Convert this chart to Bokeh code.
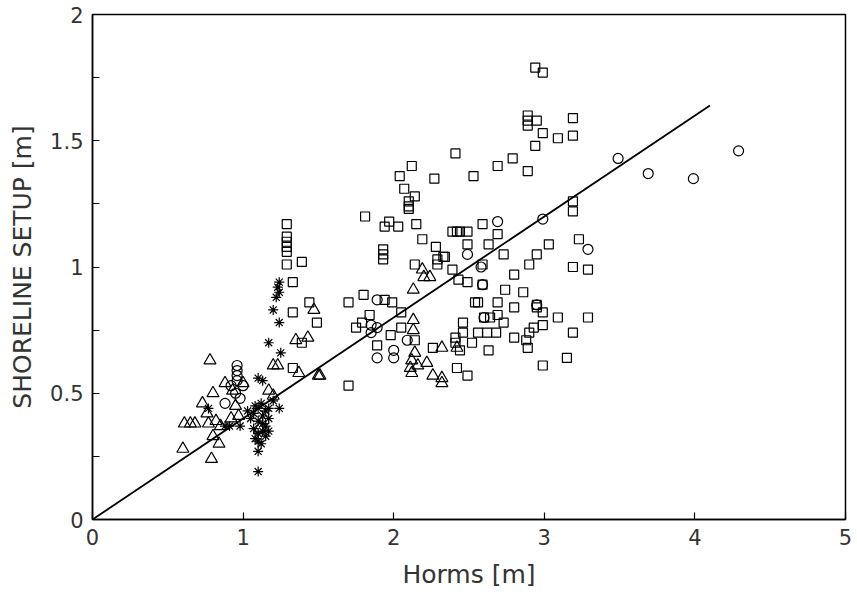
from bokeh.plotting import figure
from bokeh.models import FixedTicker, Range1d
from bokeh.embed import file_html
from bokeh.resources import INLINE

# ---- data ----
sq_x = [2.94, 2.99, 2.89, 2.89, 2.89, 2.95, 3.19, 2.99, 3.09, 3.19, 2.94, 2.41, 2.79, 2.69, 2.53, 2.89,
        3.19, 3.19, 2.12, 2.04, 2.27, 2.07, 2.14, 2.10, 2.10, 2.10, 1.81, 1.97, 1.94, 2.03, 2.15, 2.19,
        2.39, 2.42, 2.44, 2.49, 2.49, 2.28, 2.29, 2.29, 2.34, 1.93, 1.93, 1.93, 2.14, 2.43, 2.39, 2.49,
        2.59, 2.69, 2.63, 2.73, 3.03, 2.95, 2.90, 3.23, 3.19, 3.29, 2.59, 2.33, 2.80, 2.74, 2.86, 2.54,
        2.69, 2.80, 2.95, 2.99, 3.09, 3.29, 2.60, 2.64, 2.69, 2.73, 2.46, 2.46, 2.56, 2.62, 2.68, 2.41,
        2.41, 2.52, 2.44, 2.63, 2.80, 2.88, 2.90, 2.93, 2.99, 2.89, 3.19, 3.15, 2.99, 2.42, 2.49, 1.70,
        1.80, 1.94, 1.99, 2.05, 1.84, 1.75, 1.79, 2.05, 1.98, 2.14, 1.89, 2.26, 1.70, 1.29, 1.29, 1.29,
        1.29, 1.29, 1.29, 1.39, 1.33, 1.44, 1.33, 1.49, 1.39, 1.33, 2.59, 2.95, 2.56]
sq_y = [1.79, 1.77, 1.60, 1.58, 1.56, 1.58, 1.59, 1.53, 1.51, 1.52, 1.48, 1.45, 1.43, 1.40, 1.36, 1.38,
        1.26, 1.22, 1.40, 1.36, 1.35, 1.31, 1.28, 1.26, 1.24, 1.23, 1.20, 1.18, 1.16, 1.16, 1.17, 1.11,
        1.14, 1.14, 1.14, 1.14, 1.09, 1.08, 1.03, 1.01, 1.04, 1.03, 1.05, 1.07, 1.01, 0.95, 0.99, 0.94,
        1.17, 1.13, 1.09, 1.05, 1.09, 1.05, 1.01, 1.11, 1.00, 0.99, 1.01, 1.04, 0.97, 0.91, 0.90, 0.86,
        0.86, 0.84, 0.85, 0.82, 0.80, 0.80, 0.80, 0.80, 0.81, 0.78, 0.78, 0.74, 0.74, 0.74, 0.74, 0.72,
        0.70, 0.70, 0.67, 0.67, 0.72, 0.71, 0.74, 0.76, 0.77, 0.68, 0.74, 0.64, 0.61, 0.60, 0.57, 0.86,
        0.89, 0.87, 0.86, 0.82, 0.81, 0.76, 0.78, 0.76, 0.73, 0.71, 0.69, 0.68, 0.53, 1.17, 1.12, 1.10,
        1.08, 1.06, 1.01, 1.02, 0.94, 0.86, 0.82, 0.78, 0.70, 0.60, 0.93, 0.84, 0.86]

ci_x = [3.49, 3.69, 3.99, 4.29, 2.99, 3.29, 2.69, 2.49, 2.58, 2.59, 2.60, 2.95, 1.89, 1.85, 1.89, 1.85,
        2.09, 2.00, 1.89, 2.00, 0.96, 0.96, 0.96, 0.96, 0.92, 1.00, 0.88, 0.95, 0.98]
ci_y = [1.43, 1.37, 1.35, 1.46, 1.19, 1.07, 1.18, 1.05, 1.00, 0.93, 0.80, 0.85, 0.87, 0.77, 0.76, 0.74,
        0.71, 0.67, 0.64, 0.64, 0.61, 0.59, 0.57, 0.55, 0.53, 0.53, 0.46, 0.50, 0.48]

tr_x = [2.19, 2.20, 2.24, 2.13, 2.13, 2.13, 2.14, 2.12, 2.16, 2.11, 2.22, 2.12, 2.26, 2.32, 2.32, 2.32,
        1.51, 1.43, 1.35, 1.47, 1.20, 1.23, 1.37, 1.50, 0.78, 0.88, 1.00, 0.93, 0.80, 0.73, 0.95, 0.76,
        0.61, 0.65, 0.68, 0.77, 0.82, 0.85, 0.92, 0.97, 0.80, 0.60, 0.84, 0.79, 1.17, 1.20, 1.11, 2.42]
tr_y = [0.99, 0.96, 0.96, 0.91, 0.79, 0.75, 0.66, 0.63, 0.61, 0.60, 0.62, 0.58, 0.57, 0.56, 0.54, 0.68,
        0.57, 0.72, 0.71, 0.83, 0.61, 0.61, 0.58, 0.57, 0.63, 0.54, 0.54, 0.51, 0.50, 0.46, 0.45, 0.42,
        0.38, 0.38, 0.38, 0.38, 0.39, 0.37, 0.40, 0.41, 0.33, 0.28, 0.30, 0.24, 0.51, 0.49, 0.36, 0.68]

st_x = [1.24, 1.23, 1.24, 1.22, 1.20, 1.24, 1.17, 1.25, 1.10, 1.13, 1.12, 1.24, 1.17, 1.07, 1.10, 1.13,
        1.15, 1.10, 1.13, 1.17, 1.05, 1.08, 1.07, 1.10, 1.13, 1.15, 1.10, 1.12, 1.15, 1.08, 1.17, 1.10,
        1.10, 0.98, 0.88, 0.91, 0.77, 1.03, 1.20]
st_y = [0.94, 0.92, 0.90, 0.88, 0.83, 0.78, 0.70, 0.66, 0.56, 0.55, 0.46, 0.44, 0.44, 0.42, 0.44, 0.41,
        0.43, 0.39, 0.38, 0.40, 0.40, 0.45, 0.36, 0.34, 0.35, 0.33, 0.31, 0.30, 0.37, 0.32, 0.35, 0.27,
        0.19, 0.37, 0.37, 0.37, 0.44, 0.43, 0.47]

fit_x = [0.0, 4.1]
fit_y = [0.0, 1.64]

x_ticks = [0, 1, 2, 3, 4, 5]
x_labels = ["0", "1", "2", "3", "4", "5"]
y_ticks = [0, 0.5, 1, 1.5, 2]
y_labels = ["0", "0.5", "1", "1.5", "2"]
y_minor = [0.25, 0.75, 1.25, 1.75]

FONT = "DejaVu Sans"
TXT = "#333333"

p = figure(width=857, height=600, output_backend="svg", toolbar_location=None,
           x_range=Range1d(0, 5), y_range=Range1d(0, 2),
           min_border_left=92, min_border_right=12, min_border_top=14, min_border_bottom=81)
p.background_fill_color = "white"
p.border_fill_color = "white"
p.outline_line_color = "black"
p.outline_line_width = 1.5
p.xgrid.visible = False
p.ygrid.visible = False

p.line(fit_x, fit_y, line_color="black", line_width=1.8)
p.scatter(sq_x, sq_y, marker="square", size=9, fill_color=None, line_color="black", line_width=1.2)
p.scatter(ci_x, ci_y, marker="circle", size=10, fill_color=None, line_color="black", line_width=1.2)
p.scatter(tr_x, tr_y, marker="triangle", size=12, fill_color=None, line_color="black", line_width=1.2)
p.scatter(st_x, st_y, marker="asterisk", size=10, fill_color=None, line_color="black", line_width=1.2)

p.xaxis.ticker = FixedTicker(ticks=x_ticks)
p.xaxis.major_label_overrides = {t: l for t, l in zip(x_ticks, x_labels)}
p.yaxis.ticker = FixedTicker(ticks=y_ticks, minor_ticks=y_minor)
p.yaxis.major_label_overrides = {t: l for t, l in zip(y_ticks, y_labels)}

for ax in (p.xaxis, p.yaxis):
    ax.axis_line_color = "black"
    ax.axis_line_width = 1.5
    ax.major_tick_in = 7
    ax.major_tick_out = 0
    ax.major_tick_line_color = "black"
    ax.major_tick_line_width = 1.2
    ax.major_label_text_font = FONT
    ax.major_label_text_font_size = "21px"
    ax.major_label_text_color = TXT
    ax.major_label_standoff = 9
    ax.axis_label_text_font = FONT
    ax.axis_label_text_font_size = "25px"
    ax.axis_label_text_font_style = "normal"
    ax.axis_label_text_color = TXT

p.xaxis.minor_tick_line_color = None
p.yaxis.minor_tick_in = 7
p.yaxis.minor_tick_out = 0
p.yaxis.minor_tick_line_color = "black"
p.yaxis.minor_tick_line_width = 1.2

p.xaxis.axis_label = "Horms [m]"
p.yaxis.axis_label = "SHORELINE SETUP [m]"
p.xaxis.axis_label_standoff = 12
p.yaxis.axis_label_standoff = 10

open("out.html", "w").write(file_html(p, INLINE))
